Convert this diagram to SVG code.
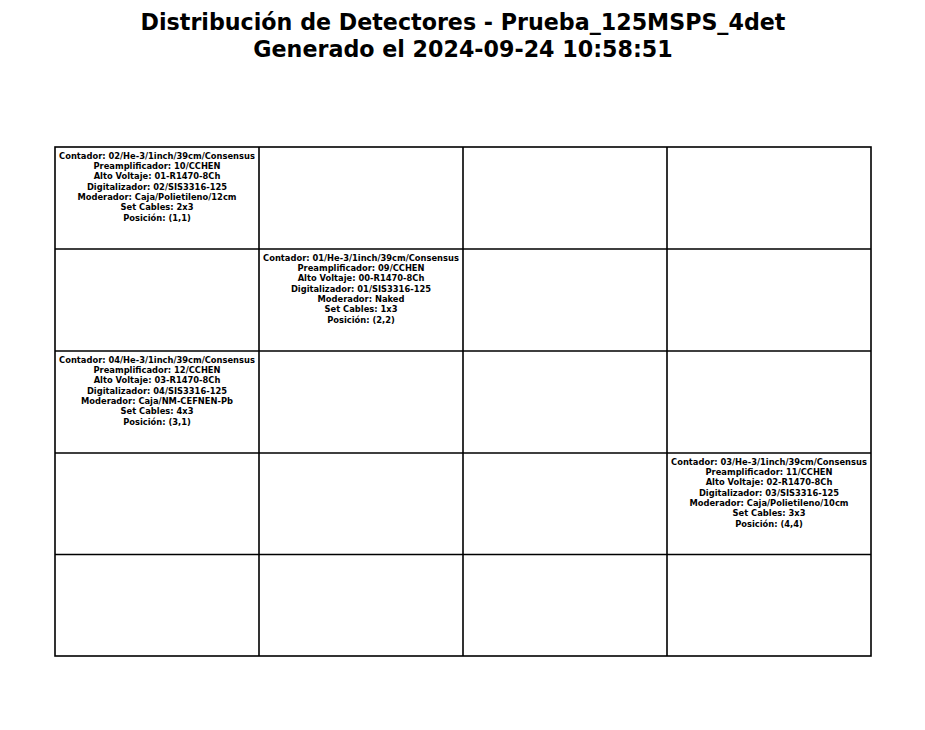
<svg xmlns="http://www.w3.org/2000/svg" width="925" height="730" viewBox="0 0 925 730">
<style>
.title{font-family:"DejaVu Sans",sans-serif;font-weight:bold;font-size:22.2px;text-anchor:middle;fill:#000}
.cell{fill:#fff;stroke:#000;stroke-width:1.6}
.lbl{font-family:"DejaVu Sans",sans-serif;font-weight:bold;font-size:8.33px;text-anchor:middle;fill:#000}
</style>
<rect width="925" height="730" fill="#fff"/>
<g id="title">
<text class="title" x="463" y="29.5">Distribución de Detectores - Prueba_125MSPS_4det</text>
<text class="title" x="463" y="56.5">Generado el 2024-09-24 10:58:51</text>
</g>
<g id="grid">
<rect class="cell" x="55" y="147" width="816" height="509"/>
<path d="M259 147V656M463 147V656M667 147V656M55 249H871M55 351H871M55 453H871M55 554.5H871" stroke="#000" stroke-width="1.6" fill="none"/>
</g>
<g id="det02">
<text class="lbl" x="157" y="158.5">Contador: 02/He-3/1inch/39cm/Consensus</text>
<text class="lbl" x="157" y="169">Preamplificador: 10/CCHEN</text>
<text class="lbl" x="157" y="179.3">Alto Voltaje: 01-R1470-8Ch</text>
<text class="lbl" x="157" y="189.7">Digitalizador: 02/SIS3316-125</text>
<text class="lbl" x="157" y="200">Moderador: Caja/Polietileno/12cm</text>
<text class="lbl" x="157" y="210.4">Set Cables: 2x3</text>
<text class="lbl" x="157" y="220.7">Posición: (1,1)</text>
</g>
<g id="det01">
<text class="lbl" x="361" y="260.5">Contador: 01/He-3/1inch/39cm/Consensus</text>
<text class="lbl" x="361" y="271">Preamplificador: 09/CCHEN</text>
<text class="lbl" x="361" y="281.3">Alto Voltaje: 00-R1470-8Ch</text>
<text class="lbl" x="361" y="291.7">Digitalizador: 01/SIS3316-125</text>
<text class="lbl" x="361" y="302">Moderador: Naked</text>
<text class="lbl" x="361" y="312.4">Set Cables: 1x3</text>
<text class="lbl" x="361" y="322.7">Posición: (2,2)</text>
</g>
<g id="det04">
<text class="lbl" x="157" y="362.5">Contador: 04/He-3/1inch/39cm/Consensus</text>
<text class="lbl" x="157" y="373">Preamplificador: 12/CCHEN</text>
<text class="lbl" x="157" y="383.3">Alto Voltaje: 03-R1470-8Ch</text>
<text class="lbl" x="157" y="393.7">Digitalizador: 04/SIS3316-125</text>
<text class="lbl" x="157" y="404">Moderador: Caja/NM-CEFNEN-Pb</text>
<text class="lbl" x="157" y="414.4">Set Cables: 4x3</text>
<text class="lbl" x="157" y="424.7">Posición: (3,1)</text>
</g>
<g id="det03">
<text class="lbl" x="769" y="464.5">Contador: 03/He-3/1inch/39cm/Consensus</text>
<text class="lbl" x="769" y="475">Preamplificador: 11/CCHEN</text>
<text class="lbl" x="769" y="485.3">Alto Voltaje: 02-R1470-8Ch</text>
<text class="lbl" x="769" y="495.7">Digitalizador: 03/SIS3316-125</text>
<text class="lbl" x="769" y="506">Moderador: Caja/Polietileno/10cm</text>
<text class="lbl" x="769" y="516.4">Set Cables: 3x3</text>
<text class="lbl" x="769" y="526.7">Posición: (4,4)</text>
</g>
</svg>
